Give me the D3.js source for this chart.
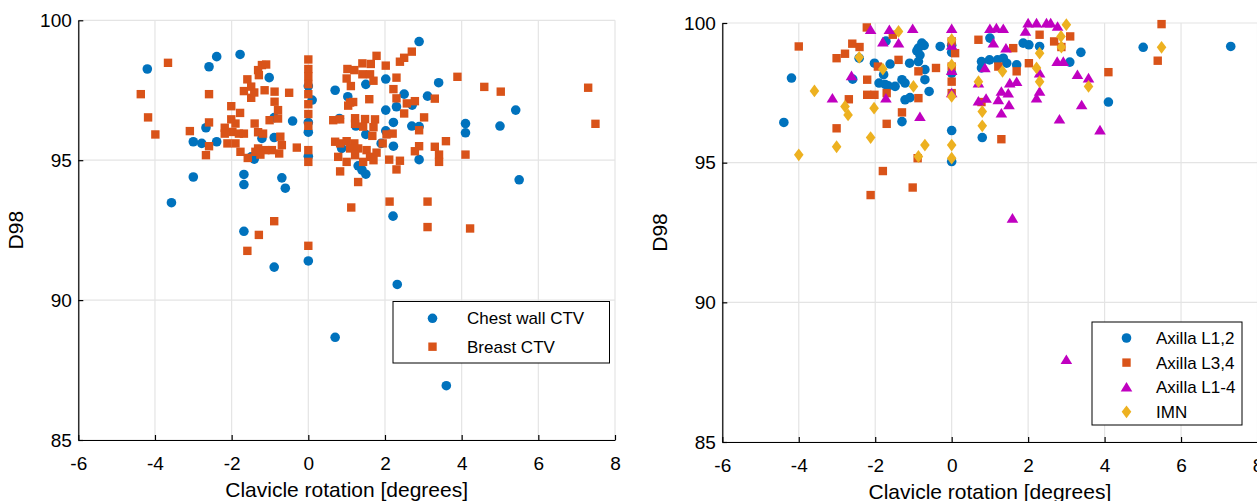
<!DOCTYPE html>
<html><head><meta charset="utf-8">
<script src="https://cdn.jsdelivr.net/npm/d3@7"></script>
<style>
body{margin:0;background:#fff;}
svg{display:block;}
text{font-family:"Liberation Sans",Arial,Helvetica,sans-serif;fill:#000;}
</style>
</head><body>
<svg id="c" width="1257" height="501"></svg>
<script>
const xTicks=[-6,-4,-2,0,2,4,6,8];
const yTicks=[85,90,95,100];
const xLabel="Clavicle rotation [degrees]";
const yLabel="D98";

// Left panel
const chestWallX=[-4.2,-2.39,-2.59,-1.78,-1.02,0,0.1,-0.89,-0.41,0,0,-2.67,-3.0,-2.78,-2.39,-1.21,-0.89,-1.41,-1.49,0,-3.0,-1.68,-1.68,-0.69,-0.6,-3.57,
 2.89,0.7,1.03,1.5,2.02,2.5,3.11,3.4,2.71,2.3,2.02,2.22,2.7,2.89,4.1,4.1,5.0,5.41,0.81,1.24,1.5,2.02,1.9,2.22,0.87,2.89,1.3,1.4,1.5,5.5,
 -1.68,0,-0.89,2.21,2.32,0.7,3.6];
const chestWallY=[98.26,98.7,98.34,98.78,97.95,97.65,97.15,96.52,96.4,96.35,96.0,96.16,95.66,95.6,95.66,95.78,95.81,95.04,95.12,95.14,94.4,94.49,94.13,94.37,94.0,93.48,
 99.24,97.5,97.27,97.71,97.9,97.36,97.29,97.77,96.97,96.91,96.79,96.35,96.22,96.2,96.31,95.98,96.22,96.79,96.49,96.22,95.92,96.05,95.6,95.5,95.42,95.02,94.8,94.65,94.5,94.3,
 92.46,91.4,91.18,93.0,90.56,88.67,86.94];
const breastX=[-3.66,-4.37,-2.59,-4.18,-3.99,-3.09,-2.59,-2.59,-2.67,-2.01,-1.78,-2.01,-2.18,-1.9,-2.18,
 -1.98,-1.81,-1.68,-2.11,-1.9,-1.77,-1.58,
 -1.59,-1.68,-1.49,-1.41,-1.49,-1.31,-1.21,-1.1,-1.29,-1.14,-0.88,-0.88,-0.79,-1.01,-0.79,-0.5,-1.4,-1.31,-1.18,
 -0.73,-0.69,-0.76,-0.95,-1.12,-1.31,-1.38,-1.25,-0.3,
 0,0,0,0,0,0,0,0,0,0,
 1.78,1.63,1.41,2.02,2.39,2.5,2.7,1.02,1.2,1.0,1.41,1.61,1.7,1.11,2.3,2.22,2.3,1.59,1.09,1.17,1.04,2.78,2.57,2.5,3.02,3.3,3.89,4.59,5.02,
 0.65,0.83,1.22,1.48,1.74,1.22,1.43,1.7,2.04,2.2,1.94,1.67,0.7,0.83,1.0,1.2,1.09,1.3,1.52,1.22,1.61,1.78,0.78,1.0,0.83,1.43,1.7,2.11,2.39,2.3,
 2.78,2.89,3.3,3.41,3.41,3.59,4.1,1.3,2.89,
 7.3,7.49,
 1.12,2.12,3.11,3.11,4.22,-1.29,-0.89,-1.59,0];
const breastY=[98.48,97.36,97.36,96.53,95.92,96.04,96.35,95.5,95.18,96.93,96.69,96.46,96.16,96.31,95.95,
 96.01,95.95,95.95,95.6,95.6,95.3,95.08,
 97.89,97.47,97.23,97.42,97.63,98.22,98.4,98.42,98.04,97.5,97.45,97.09,96.79,96.43,96.49,97.41,96.31,96.0,95.95,
 95.84,95.54,95.24,95.36,95.36,95.42,95.3,95.2,95.45,
 98.6,98.26,98.0,97.72,97.36,97.0,96.65,96.23,95.36,94.94,
 98.73,98.44,98.46,98.38,98.52,98.66,98.88,98.26,98.22,97.92,98.07,98.07,97.84,97.65,97.95,97.54,97.21,97.18,97.06,97.08,96.95,97.11,97.03,96.67,96.53,97.2,97.98,97.62,97.45,
 96.43,96.46,96.5,96.47,96.46,96.3,96.2,96.18,95.92,95.95,95.6,95.87,95.66,95.6,95.68,95.6,95.42,95.42,95.36,95.18,95.12,95.27,95.12,94.94,94.6,94.94,95.0,95.02,94.98,94.67,
 95.32,95.5,95.48,95.2,94.94,95.68,95.2,94.22,96.07,
 97.59,96.3,
 93.31,93.52,93.52,92.61,92.56,92.33,92.82,91.76,91.94];

// Right panel
const axL12X=[-4.19,-4.39,-2.59,-2.42,-2.02,-1.61,-1.72,-1.78,-1.74,-1.48,-1.3,-1.22,-1.9,-1.66,
 -0.78,-0.87,-0.72,-0.91,-0.3,-0.83,-1.1,-0.87,-0.7,-0.7,-0.59,-1.22,-1.09,-1.3,
 0,0,0,0,0,0.78,0.99,1.2,1.35,1.44,1.0,0.78,1.7,0.8,1.87,2.02,2.3,3.38,3.09,4.1,5.01,7.3];
const axL12Y=[98.03,96.44,97.99,98.74,98.56,98.53,99.35,98.15,97.8,97.73,97.97,97.85,97.85,97.75,
 99.28,99.1,99.2,99.0,99.16,98.85,98.56,98.62,98.33,97.97,97.55,97.25,97.33,96.47,
 99.2,98.95,98.2,96.15,95.04,98.62,98.68,98.68,98.74,98.56,99.46,98.39,98.5,95.9,99.28,99.22,99.16,98.95,98.6,97.17,99.13,99.16];
const axL34X=[-4.0,-2.22,-3.01,-2.79,-2.6,-2.41,-2.21,-2.21,-2.02,-2.69,-1.7,-1.7,-3.01,-1.8,-2.12,-1.54,-1.93,
 -1.39,-0.87,-0.41,-0.87,-1.3,-1.02,-0.89,0,0.09,0,0,0,0.7,1.22,1.61,1.7,2.02,2.3,2.68,0.78,1.3,3.1,2.87,4.1,5.49,5.39];
const axL34Y=[99.16,99.84,98.74,98.9,99.26,99.14,97.97,97.43,97.43,97.27,97.49,96.39,96.23,94.7,93.84,99.58,98.44,
 98.68,98.27,98.39,97.31,96.8,94.11,95.16,99.34,98.92,98.44,97.9,97.49,99.4,98.44,99.1,98.27,98.56,99.58,99.34,97.17,95.84,99.52,99.14,98.24,99.96,98.65];
const axL14X=[-2.12,-1.63,-1.8,-2.62,-3.12,-1.72,-1.02,-1.39,0,0,0,0,1.0,1.17,1.35,1.09,1.42,0.87,0.7,1.52,1.7,1.3,1.48,1.22,0.9,0.7,1.3,1.5,-0.83,
 2.0,2.22,2.48,1.93,2.3,2.22,2.3,2.76,2.82,2.59,2.77,2.92,3.29,3.58,3.4,3.88,1.59,3.0];
const axL14Y=[99.76,99.76,99.32,98.11,97.31,97.31,99.8,99.28,99.8,99.2,98.3,97.5,99.8,99.82,99.8,99.28,99.1,98.39,97.85,97.85,97.9,97.55,97.49,97.25,97.3,97.2,96.77,97.07,96.65,
 100.0,100.0,100.0,99.7,98.21,97.31,97.55,98.62,96.56,100.0,99.88,98.62,98.15,98.03,97.07,96.17,93.01,87.95];
const imnX=[-2.42,-1.8,-3.59,-2.79,-2.71,-2.03,-2.12,-3.01,-4.0,-1.39,-1.0,0,0,0,0.7,0.8,0.8,-0.7,-0.87,0,0,1.33,2.22,2.3,2.3,3.0,2.86,2.87,3.58,5.49];
const imnY=[98.77,98.35,97.57,97.01,96.71,96.95,95.9,95.57,95.28,99.7,97.73,99.4,98.5,97.37,97.9,96.83,96.32,95.63,95.22,95.63,95.16,98.27,98.39,98.92,97.9,99.94,99.52,99.14,97.73,99.13];

const C_BLUE="#0072BD",C_ORANGE="#D95319",C_MAG="#C000C0",C_YEL="#EDB120";

const shapes={
  circle:()=>{const p=d3.path();p.arc(0,0,4.8,0,2*Math.PI);return p.toString();},
  square:()=>"M-4.2,-4.2H4.2V4.2H-4.2Z",
  triangle:()=>"M0,-5.2L5.8,4.4L-5.8,4.4Z",
  diamond:()=>"M0,-6.4L4.8,0L0,6.4L-4.8,0Z"
};

const svg=d3.select("#c");

function panel(cfg){
  const x=d3.scaleLinear().domain([-6,8]).range([cfg.l,cfg.r]);
  const y=d3.scaleLinear().domain([85,100]).range([cfg.b,cfg.t]);
  const g=svg.append("g");
  g.selectAll(null).data(xTicks).join("line")
    .attr("x1",d=>x(d)).attr("x2",d=>x(d)).attr("y1",cfg.t).attr("y2",cfg.b)
    .attr("stroke","#e4e4e4").attr("stroke-width",1.2);
  g.selectAll(null).data(yTicks).join("line")
    .attr("x1",cfg.l).attr("x2",cfg.r).attr("y1",d=>y(d)).attr("y2",d=>y(d))
    .attr("stroke","#e4e4e4").attr("stroke-width",1.2);

  const ax=g.append("g").attr("transform",`translate(0,${cfg.b})`)
    .call(d3.axisBottom(x).tickValues(xTicks).tickSize(-5).tickSizeOuter(0).tickPadding(17).tickFormat(d3.format("d")));
  const ay=g.append("g").attr("transform",`translate(${cfg.l},0)`)
    .call(d3.axisLeft(y).tickValues(yTicks).tickSize(-5).tickSizeOuter(0).tickPadding(6.5).tickFormat(d3.format("d")));
  [ax,ay].forEach(a=>{
    a.select(".domain").attr("stroke","#000").attr("stroke-width",1.2);
    a.selectAll(".tick line").attr("stroke","#000").attr("stroke-width",1.2);
    a.selectAll(".tick text").attr("font-size",19).attr("fill","#000")
      .attr("font-family",'"Liberation Sans",Arial,sans-serif');
  });
  ax.selectAll(".tick text").text(d=>d<0?"-"+Math.abs(d):d);

  g.append("text").attr("x",(cfg.l+cfg.r)/2).attr("y",cfg.b+57)
    .attr("text-anchor","middle").attr("font-size",21).text(xLabel);
  g.append("text").attr("transform",`translate(${cfg.l-55},${(cfg.t+cfg.b)/2}) rotate(-90)`)
    .attr("text-anchor","middle").attr("font-size",21).text(yLabel);

  cfg.series.forEach(s=>{
    g.append("g").selectAll("path").data(s.xs.map((v,i)=>[v,s.ys[i]])).join("path")
      .attr("d",shapes[s.shape]()).attr("fill",s.color)
      .attr("transform",d=>`translate(${x(d[0])},${y(d[1])})`);
  });

  const L=cfg.legend;
  const lg=g.append("g");
  lg.append("rect").attr("x",L.x).attr("y",L.y).attr("width",L.w).attr("height",L.h)
    .attr("fill","#fff").attr("stroke","#000").attr("stroke-width",1);
  cfg.series.forEach((s,i)=>{
    const yy=L.y+L.first+i*L.step;
    lg.append("path").attr("d",shapes[s.shape]()).attr("fill",s.color)
      .attr("transform",`translate(${L.x+L.mx},${yy})`);
    lg.append("text").attr("x",L.x+L.tx).attr("y",yy).attr("dy","0.35em")
      .attr("font-size",17).text(s.name);
  });
}

panel({l:78.3,r:615,t:20.3,b:440,
  series:[
    {name:"Chest wall CTV",xs:chestWallX,ys:chestWallY,shape:"circle",color:C_BLUE},
    {name:"Breast CTV",xs:breastX,ys:breastY,shape:"square",color:C_ORANGE}],
  legend:{x:393,y:301.5,w:216.5,h:61.5,first:16.8,step:28.4,mx:39.5,tx:74}
});
panel({l:722.3,r:1257.5,t:23,b:442,
  series:[
    {name:"Axilla L1,2",xs:axL12X,ys:axL12Y,shape:"circle",color:C_BLUE},
    {name:"Axilla L3,4",xs:axL34X,ys:axL34Y,shape:"square",color:C_ORANGE},
    {name:"Axilla L1-4",xs:axL14X,ys:axL14Y,shape:"triangle",color:C_MAG},
    {name:"IMN",xs:imnX,ys:imnY,shape:"diamond",color:C_YEL}],
  legend:{x:1092,y:322,w:150,h:103,first:16,step:24.6,mx:34.5,tx:64}
});
</script>
</body></html>
